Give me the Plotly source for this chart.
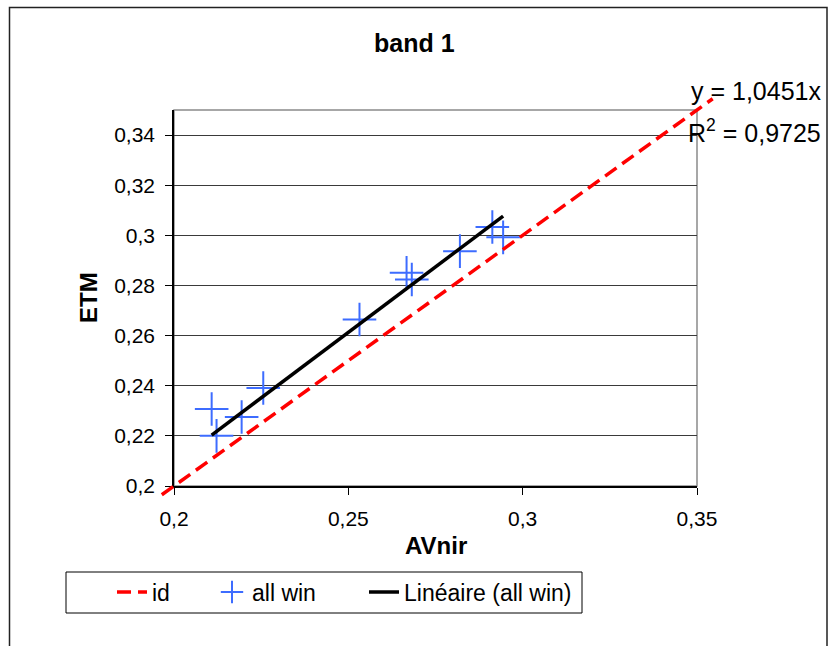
import plotly.graph_objects as go

# ---------------- data ----------------
avnir = [0.2108, 0.2122, 0.2194, 0.2256, 0.2532, 0.2667, 0.2682, 0.2820, 0.2913, 0.2944]
etm = [0.2307, 0.2200, 0.2275, 0.2391, 0.2664, 0.2851, 0.2824, 0.2937, 0.3033, 0.2992]
id_x = [0.1965, 0.3545]
id_y = [0.1965, 0.3545]
slope = 1.0451
r2 = 0.9725
x_range = [0.2, 0.35]
y_range = [0.2, 0.35]
x_dtick = 0.05
y_dtick = 0.02
title_text = "band 1"
x_title = "AVnir"
y_title = "ETM"
series_names = ["id", "all win", "Linéaire (all win)"]

# ---------------- layout geometry (pixels) ----------------
W_FIG, H_FIG = 828, 646
L, R, T, B = 150, 730, 70, 500          # paper area in pixels
PW, PH = R - L, B - T
PLOT_L, PLOT_R, PLOT_T, PLOT_B = 174, 697, 110, 486


def px2x(p):
    return (p - L) / PW


def px2y(p):
    return (B - p) / PH


xdom = [px2x(PLOT_L), px2x(PLOT_R)]
ydom = [px2y(PLOT_B), px2y(PLOT_T)]


def ext_range(rng, dom):
    s = (rng[1] - rng[0]) / (dom[1] - dom[0])
    return [rng[0] - dom[0] * s, rng[1] + (1 - dom[1]) * s]


trend_x = [min(avnir), max(avnir)]
trend_y = [slope * v for v in trend_x]

FONT = "Liberation Sans, Arial, sans-serif"
BLUE = "#3d6cff"

fig = go.Figure()

# identity line on an overlay axis pair sharing the same scale (so it can extend past plot box)
fig.add_trace(go.Scatter(
    x=id_x, y=id_y, mode="lines", name=series_names[0],
    line=dict(color="#ff0000", width=3.5, dash="14px,7px"),
    xaxis="x2", yaxis="y2", showlegend=True, legend="legend",
))
fig.add_trace(go.Scatter(
    x=avnir, y=etm, mode="markers", name=series_names[1],
    marker=dict(symbol="cross-thin", size=24, color=BLUE,
                line=dict(color=BLUE, width=2)),
    legend="legend2",
))
fig.add_trace(go.Scatter(
    x=trend_x, y=trend_y, mode="lines", name=series_names[2],
    line=dict(color="#000000", width=3.5),
    legend="legend3",
))

LEG_Y = px2y(592)
leg_common = dict(orientation="h", y=LEG_Y, xanchor="left", yanchor="middle",
                  borderwidth=0, bgcolor="rgba(0,0,0,0)", font=dict(size=23))

fig.update_layout(
    width=W_FIG, height=H_FIG,
    margin=dict(l=L, r=W_FIG - R, t=T, b=H_FIG - B, pad=0),
    paper_bgcolor="white", plot_bgcolor="rgba(0,0,0,0)",
    separators=", ",
    font=dict(family=FONT, size=21, color="#000"),
    showlegend=True,
    legend=dict(x=px2x(112), **leg_common),
    legend2=dict(x=px2x(212), **leg_common),
    legend3=dict(x=px2x(364), **leg_common),
    xaxis=dict(
        domain=xdom, range=x_range, tickmode="linear", tick0=x_range[0], dtick=x_dtick,
        showgrid=False, zeroline=False, showline=True, linecolor="#000", linewidth=1.5,
        ticks="outside", ticklen=7, tickcolor="#000", tickwidth=1,
        tickfont=dict(size=21), anchor="y", ticklabelstandoff=6,
    ),
    yaxis=dict(
        domain=ydom, range=y_range, tickmode="linear", tick0=y_range[0], dtick=y_dtick,
        showgrid=True, gridcolor="#3a3a3a", gridwidth=1,
        zeroline=False, showline=True, linecolor="#000", linewidth=1.5,
        ticks="outside", ticklen=7, tickcolor="#000", tickwidth=1,
        tickfont=dict(size=21), anchor="x", ticklabelstandoff=6,
    ),
    xaxis2=dict(domain=[0, 1], range=ext_range(x_range, xdom), visible=False, anchor="y2"),
    yaxis2=dict(domain=[0, 1], range=ext_range(y_range, ydom), visible=False, anchor="x2"),
)

# frames
fig.add_shape(type="rect", xref="paper", yref="paper",
              x0=xdom[0], x1=xdom[1], y0=ydom[0], y1=ydom[1],
              line=dict(color="#8a8a8a", width=1.5), layer="below")
fig.add_shape(type="rect", xref="paper", yref="paper",
              x0=px2x(9.5), x1=px2x(827), y0=px2y(660), y1=px2y(7.5),
              line=dict(color="#222", width=1.5), layer="below")
# legend box
fig.add_shape(type="rect", xref="paper", yref="paper",
              x0=px2x(66), x1=px2x(582), y0=px2y(613), y1=px2y(572),
              line=dict(color="#000", width=1), fillcolor="white", layer="below")

# titles
fig.add_annotation(text="<b>%s</b>" % title_text, xref="paper", yref="paper",
                   x=px2x(414), y=px2y(43), showarrow=False,
                   font=dict(size=25), xanchor="center", yanchor="middle")
fig.add_annotation(text="<b>%s</b>" % x_title, xref="paper", yref="paper",
                   x=px2x(435.5), y=px2y(545), showarrow=False,
                   font=dict(size=24), xanchor="center", yanchor="middle")
fig.add_annotation(text="<b>%s</b>" % y_title, xref="paper", yref="paper",
                   x=px2x(88), y=px2y(298), showarrow=False, textangle=-90,
                   font=dict(size=24), xanchor="center", yanchor="middle")

# regression equation
eq = "y = %sx" % ("%.4f" % slope).replace(".", ",")
fig.add_annotation(text=eq, xref="paper", yref="paper",
                   x=px2x(823), y=px2y(91), showarrow=False,
                   font=dict(size=25), xanchor="right", yanchor="middle")
fig.add_annotation(text="R<sup>2</sup> = %s" % ("%.4f" % r2).replace(".", ","),
                   xref="paper", yref="paper",
                   x=px2x(823), y=px2y(131), showarrow=False,
                   font=dict(size=25), xanchor="right", yanchor="middle")

fig.write_html("out.html")
